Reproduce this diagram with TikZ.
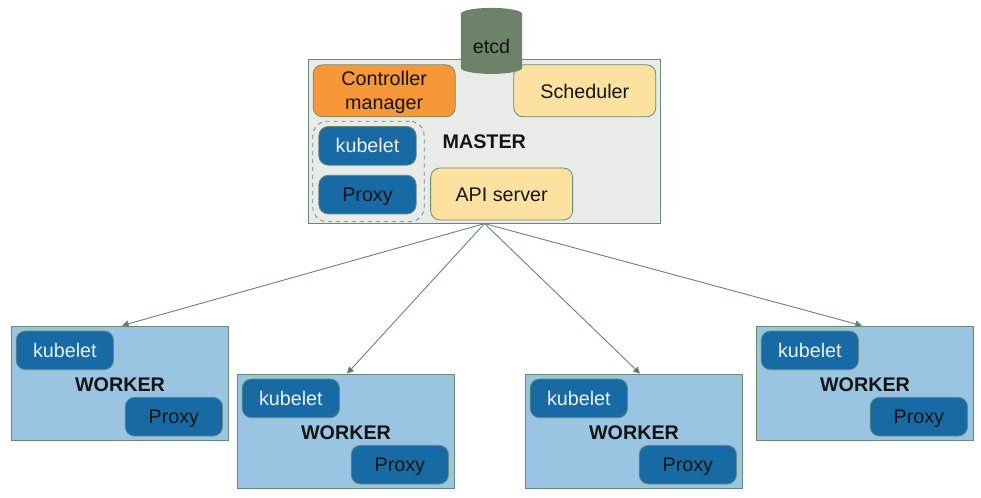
\documentclass[tikz,border=0pt]{standalone}
\usepackage{fontspec}
\setmainfont{Liberation Sans}
\usetikzlibrary{positioning, shapes.geometric, arrows.meta}

\definecolor{edgegreen}{HTML}{6B8A72}
\definecolor{dbgreen}{HTML}{6C8369}
\definecolor{masterbg}{HTML}{E9EBE9}
\definecolor{workerbg}{HTML}{99C4E2}
\definecolor{compblue}{HTML}{186AA5}
\definecolor{comporange}{HTML}{F79737}
\definecolor{compyellow}{HTML}{FCE1A0}
\definecolor{inktext}{HTML}{141414}

\tikzset{
    box/.style={draw=edgegreen, line width=0.6pt, rectangle, inner sep=0pt},
    comp/.style={box, rounded corners=7pt, minimum width=106.5pt, minimum height=39pt, align=center,
        text=inktext, font=\fontsize{14.8}{18}\selectfont},
    bluecomp/.style={comp, fill=compblue, minimum width=73pt, minimum height=29pt},
    kubeletcomp/.style={bluecomp, text=white!90!compblue},
    proxycomp/.style={bluecomp, text depth=0pt},
    worker/.style={box, fill=workerbg, minimum width=162.75pt, minimum height=85.5pt},
    title/.style={text=inktext, font=\fontsize{14.8}{18}\selectfont\bfseries, inner sep=0pt},
    link/.style={draw=edgegreen, line width=0.7pt, -{Triangle[length=5pt, width=5pt, fill=edgegreen!85!black]}}
}

\begin{document}
\begin{tikzpicture}[x=0.75pt, y=-0.75pt]
    \useasboundingbox (0,0) rectangle (981,497);

    %Master
    \node[box, fill=masterbg, minimum width=264.5pt, minimum height=122.5pt](master) at (484.5,141.5){};
    \node[comp, fill=comporange, text depth=0pt, below right = 3.75pt and 3.75pt of master.north west](ctrl){Controller\\manager};
    \node[comp, fill=compyellow, text height=12pt, below left = 3.75pt and 3.75pt of master.north east](sched){Scheduler};
    \node[kubeletcomp, below right = 50pt and 8pt of master.north west](mkube){kubelet};
    \node[proxycomp, below = 7pt of mkube](mproxy){Proxy};
    \node[comp, fill=compyellow, text height=11.5pt, right = 10.25pt of mproxy, yshift=0.5pt](api){API server};
    \node[title, above = 14pt of api, xshift=-13pt](mtitle){MASTER};
    \node[draw=edgegreen, dashed, line width=0.6pt, rounded corners=11pt, inner sep=0pt,
        minimum width=83.5pt, minimum height=75.5pt](group) at (368.5,171.5){};

    %etcd
    \node[cylinder, shape border rotate=90, aspect=0.32, fill=dbgreen, inner sep=0pt,
        minimum width=46pt, minimum height=49.5pt, text=inktext, text height=14.5pt, text depth=0pt,
        font=\fontsize{14.8}{18}\selectfont](etcd) at (491.5,44){etcd};

    %Worker links
    \node[worker](w1) at (120,383){};
    \node[kubeletcomp, below right = 3.75pt and 3.5pt of w1.north west](k1){kubelet};
    \node[proxycomp, above left = 3pt and 4.5pt of w1.south east](p1){Proxy};
    \node[title](t1) at (120,384.5){WORKER};

    \node[worker](w2) at (346,431){};
    \node[kubeletcomp, below right = 3.75pt and 3.5pt of w2.north west](k2){kubelet};
    \node[proxycomp, above left = 3pt and 4.5pt of w2.south east](p2){Proxy};
    \node[title](t2) at (346,432.5){WORKER};

    %Worker rechts
    \node[worker](w3) at (634,431){};
    \node[kubeletcomp, below right = 3.75pt and 3.5pt of w3.north west](k3){kubelet};
    \node[proxycomp, above left = 3pt and 4.5pt of w3.south east](p3){Proxy};
    \node[title](t3) at (634,432.5){WORKER};

    \node[worker](w4) at (865,383){};
    \node[kubeletcomp, below right = 3.75pt and 3.5pt of w4.north west](k4){kubelet};
    \node[proxycomp, above left = 3pt and 4.5pt of w4.south east](p4){Proxy};
    \node[title](t4) at (865,384.5){WORKER};

    \draw[link](master.south) -- ([xshift=1.5pt]w1.north);
    \draw[link](master.south) -- ([xshift=0.75pt]w2.north);
    \draw[link](master.south) -- ([xshift=4.5pt]w3.north);
    \draw[link](master.south) -- ([xshift=-2.25pt]w4.north);
\end{tikzpicture}
\end{document}
